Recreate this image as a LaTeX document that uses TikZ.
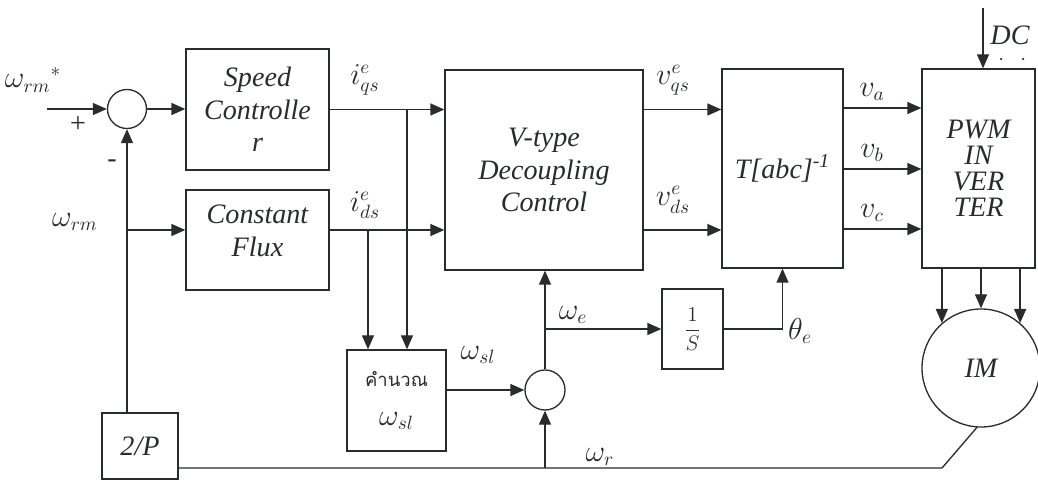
\documentclass[tikz,border=0pt]{standalone}
\usepackage{fontspec}
\setmainfont{Liberation Serif}
\newfontfamily\thaifont[Script=Thai]{Loma}
\usepackage{tikz}
\usetikzlibrary{arrows.meta, positioning, calc}
\definecolor{ink}{RGB}{40,44,42}

\begin{document}
\begin{tikzpicture}[
  ink, line width=0.75pt,
  blk/.style={rectangle, draw=ink, align=center,
              font=\fontsize{16}{18.5}\selectfont\itshape},
  sum/.style={circle, draw=ink, minimum size=0.78cm, inner sep=0pt},
  arr/.style={-{Triangle[length=0.28cm, width=0.24cm]}},
  lbl/.style={font=\fontsize{16}{18}\selectfont, inner sep=1pt},
]
\useasboundingbox (0,0) rectangle (20.76,-9.62);

% Bloques principales
\node[sum] at (2.54,-2.18)  (sum1) {};
\node[blk, minimum width=2.86cm, minimum height=2.42cm] at (5.15,-2.19)  (spd)  {Speed\\Controlle\\r};
\node[blk, minimum width=2.86cm, minimum height=2.0cm]  at (5.15,-4.8)   (flux) {};
\node[blk, draw=none] at (5.15,-4.62) (fluxtxt) {Constant\\Flux};
\node[blk, minimum width=3.96cm, minimum height=4.0cm]  at (10.88,-3.4)  (vdc)  {V-type\\Decoupling\\Control};
\node[blk, minimum width=2.42cm, minimum height=3.98cm] at (15.65,-3.37) (tabc) {T[abc]\textsuperscript{-1}};
\node[blk, minimum width=2.26cm, minimum height=3.98cm,
      font=\fontsize{16}{14.7}\selectfont\itshape]    at (19.57,-3.37) (pwm)  {PWM\\IN\\VER\\TER};
\node[blk, minimum width=1.98cm, minimum height=2.02cm,
      font=\fontsize{16}{22}\selectfont]              at (7.93,-8.01)  (calc) {{\thaifont\fontsize{10.5}{12}\selectfont คำนวณ}\\$\omega_{sl}$};
\node[blk, minimum width=1.22cm, minimum height=1.6cm,
      font=\fontsize{13}{15}\selectfont]              at (13.85,-6.58) (integ) {$\displaystyle\frac{1}{S}$};
\node[blk, minimum width=1.52cm, minimum height=1.32cm] at (2.8,-8.92)   (gain) {2/P};
\node[sum, minimum size=0.8cm] at (10.9,-7.8) (sum2) {};
\node[circle, draw=ink, minimum size=2.36cm, inner sep=0pt,
      font=\fontsize{16}{18}\selectfont\itshape]      at (19.62,-7.36) (im)   {IM};

% Puntos auxiliares
\coordinate (in)   at (0.94,-2.18);
\coordinate (fo)   at ([yshift=2mm]flux.east);
\coordinate (dcin) at (19.66,-0.16);
\coordinate (kink) at (18.84,-9.36);
\coordinate (qbr)  at (8.14,-2.18);
\coordinate (dbr)  at (7.36,-2.18);

% Lazo de velocidad
\draw[arr] (in) -- (sum1.west);
\draw[arr] (sum1.east) -- (spd.west |- sum1);
\draw[arr] (spd.east) -- (spd.east -| vdc.west);
\draw[arr] (fo) -- (fo -| vdc.west);
\draw[arr] (gain.north -| sum1) -- (sum1.south);
\draw[arr] (sum1 |- fo) -- (fo -| flux.west);

% Calculo de deslizamiento
\draw[arr] (qbr) -- (qbr |- calc.north);
\draw[arr] (dbr |- fo) -- (dbr |- calc.north);
\draw[arr] (calc.east |- sum2) -- (sum2.west);
\draw[arr] (sum2.north) -- (sum2 |- vdc.south);
\draw[arr] (sum2 |- integ) -- (integ.west);
\draw[arr] (integ.east) -| (tabc.south);

% Transformacion e inversor
\draw[arr] (vdc.east |- spd.east) -- (tabc.west |- spd.east);
\draw[arr] (vdc.east |- fo) -- (tabc.west |- fo);
\draw[arr] (tabc.east |- 0,-2.16) -- (pwm.west |- 0,-2.16);
\draw[arr] (tabc.east |- 0,-3.38) -- (pwm.west |- 0,-3.38);
\draw[arr] (tabc.east |- 0,-4.58) -- (pwm.west |- 0,-4.58);
\draw[arr] (dcin) -- (dcin |- pwm.north);
\draw[arr] (im.131 |- pwm.south) -- (im.131);
\draw[arr] (im.north |- pwm.south) -- (im.north);
\draw[arr] (im.49 |- pwm.south) -- (im.49);

% Realimentacion
\draw (im.266) -- (kink) -- (kink -| gain.east);
\draw[arr] (sum2 |- kink) -- (sum2.south);

% Etiquetas
\node[lbl] at (0.66,-1.6)   (wref) {$\omega_{rm}{}^{*}$};
\node[lbl] at (1.56,-2.5)   (plus) {+};
\node[lbl] at (2.24,-3.28)  (minus) {-};
\node[lbl] at (1.5,-4.44)   (wrm)  {$\omega_{rm}$};
\node[lbl] at (7.3,-1.6)    (iqs)  {$i^{e}_{qs}$};
\node[lbl] at (7.3,-4.1)    (ids)  {$i^{e}_{ds}$};
\node[lbl] at (13.46,-1.6)  (vqs)  {$v^{e}_{qs}$};
\node[lbl] at (13.46,-4.0)  (vds)  {$v^{e}_{ds}$};
\node[lbl] at (17.44,-1.84) (va)   {$v_a$};
\node[lbl] at (17.44,-3.06) (vb)   {$v_b$};
\node[lbl] at (17.44,-4.26) (vc)   {$v_c$};
\node[lbl, font=\fontsize{16}{18}\selectfont\itshape] at (20.2,-0.7) (dc) {DC};
\fill (20.02,-1.18) circle (0.025) (20.46,-1.18) circle (0.025);
\node[lbl] at (9.56,-7.1)   (wsl)  {$\omega_{sl}$};
\node[lbl] at (11.46,-6.3)  (we)   {$\omega_e$};
\node[lbl] at (12.0,-9.14)  (wr)   {$\omega_r$};
\node[lbl] at (16.0,-6.62)  (th)   {$\theta_e$};

\end{tikzpicture}
\end{document}
